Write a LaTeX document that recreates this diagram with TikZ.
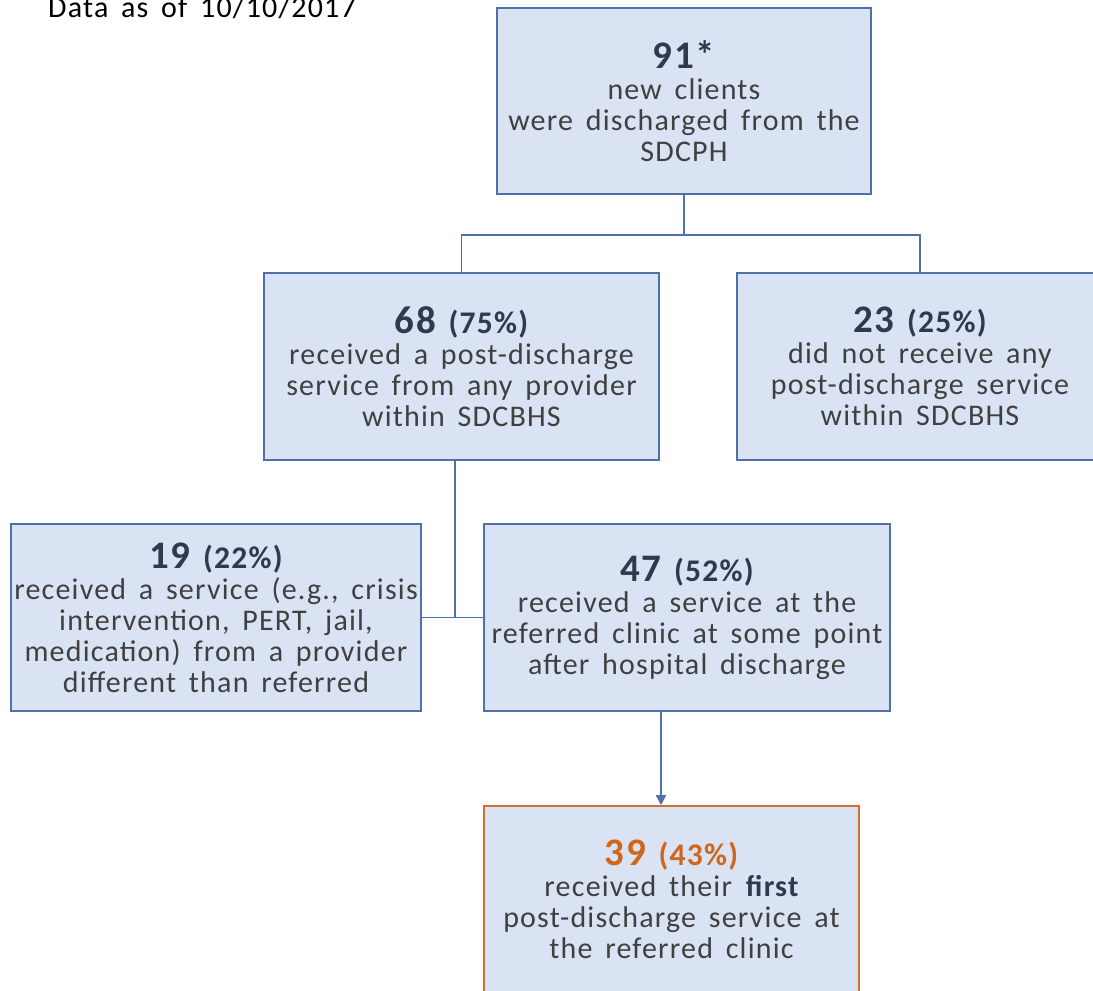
\documentclass[tikz,border=0pt]{standalone}
\usepackage{fontspec}
\setmainfont{Carlito}[LetterSpace=4, WordSpace=1.6]
\usetikzlibrary{arrows.meta,calc}
\definecolor{boxfill}{HTML}{DAE3F3}
\definecolor{boxline}{HTML}{4F71A8}
\definecolor{bodytext}{HTML}{404040}
\definecolor{numtext}{HTML}{2F3A4C}
\definecolor{orangeline}{HTML}{D2712E}
\definecolor{orangetext}{HTML}{D0661C}
\newcommand{\bignum}[1]{{\fontsize{39}{38}\selectfont\bfseries\color{numtext}#1}}
\newcommand{\pct}[1]{{\fontsize{31.5}{31}\selectfont\bfseries\color{numtext}#1}}
\tikzset{
  flowbox/.style={draw=boxline, fill=boxfill, line width=1.6pt, rectangle,
    align=center, inner sep=0pt, text=bodytext,
    font=\fontsize{30}{31}\selectfont},
  conn/.style={draw=boxline, line width=1.6pt},
}
\begin{document}
\begin{tikzpicture}[x=1pt,y=-1pt]
\useasboundingbox (0,0) rectangle (1093,991);
\clip (0,0) rectangle (1093,991);

\node[anchor=base west, inner sep=0pt, text=black, font=\fontsize{30}{31}\selectfont] (title) at (48,17.5) {Data as of 10/10/2017};

\node[flowbox, minimum width=374pt, minimum height=186pt] (top) at (684,101)
  {\bignum{91*}\\new clients\\were discharged from the\\SDCPH};

\node[flowbox, minimum width=395pt, minimum height=187pt] (n68) at (461.5,366.5)
  {\bignum{68} \pct{(75\%)}\\received a post-discharge\\service from any provider\\within SDCBHS};

\node[flowbox, minimum width=366pt, minimum height=187pt] (n23) at (920,366.5)
  {\bignum{23} \pct{(25\%)}\\did not receive any\\post-discharge service\\within SDCBHS};

\node[flowbox, minimum width=410pt, minimum height=187pt] (n19) at (216,617.5)
  {\bignum{19} \pct{(22\%)}\\received a service (e.g., crisis\\intervention, PERT, jail,\\medication) from a provider\\different than referred};

\node[flowbox, minimum width=406pt, minimum height=187pt] (n47) at (687,617.5)
  {\bignum{47} \pct{(52\%)}\\received a service at the\\referred clinic at some point\\after hospital discharge};

\node[flowbox, draw=orangeline, minimum width=375pt, minimum height=187pt] (n39) at (671.5,899.5)
  {{\fontsize{39}{38}\selectfont\bfseries\color{orangetext}39} {\fontsize{31.5}{31}\selectfont\bfseries\color{orangetext}(43\%)}\\received their \textbf{\color{numtext}first}\\post-discharge service at\\the referred clinic};

\coordinate (j1) at (684,235);
\draw[conn] (top.south) -- (j1);
\draw[conn] (n68.north) |- (j1) -| (n23.north);

\coordinate (j2) at (455,617.5);
\draw[conn] (n68.south -| j2) -- (j2);
\draw[conn] (n19.east) -- (n47.west);

\coordinate (a1) at (661,711);
\draw[conn, -{Triangle[width=10pt,length=10pt]}] (n47.south -| a1) -- (n39.north -| a1);
\end{tikzpicture}
\end{document}
